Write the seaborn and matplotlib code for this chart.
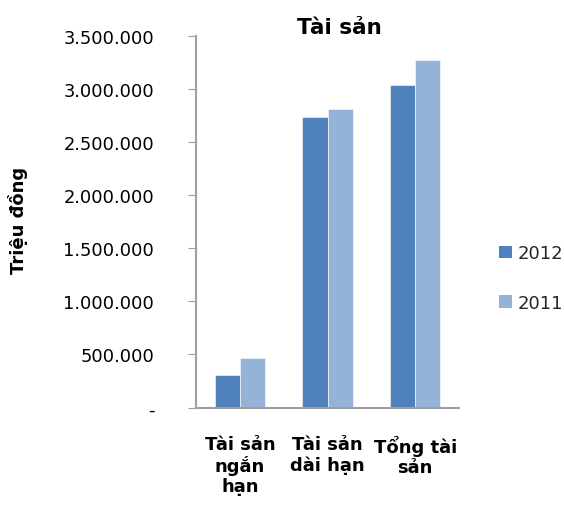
import matplotlib
matplotlib.use("Agg")
import matplotlib.pyplot as plt
import matplotlib.ticker as mticker
from matplotlib.patches import Patch
import seaborn as sns
import pandas as pd

# Asset breakdown (million VND)
categories = ["Tài sản ngắn hạn", "Tài sản dài hạn", "Tổng tài sản"]
tick_labels = ["Tài sản\nngắn\nhạn", "Tài sản\ndài hạn", "Tổng tài\nsản"]
years = ["2012", "2011"]
values_2012 = [305000, 2735000, 3040000]
values_2011 = [464000, 2810000, 3274000]
colors = ["#4F81BD", "#95B3D7"]

df = pd.DataFrame({
    "category": categories * 2,
    "year": [years[0]] * 3 + [years[1]] * 3,
    "value": values_2012 + values_2011,
})

sns.set_theme(style="white")
plt.rcParams["font.family"] = ["DejaVu Sans"]

fig = plt.figure(figsize=(5.64, 5.06), dpi=100)
ax = fig.add_axes([196 / 564, 1 - 408.5 / 506, (459 - 196) / 564, (408.5 - 37) / 506])

sns.barplot(data=df, x="category", y="value", hue="year", hue_order=years,
            order=categories, palette=colors, width=0.577, saturation=1,
            edgecolor="white", linewidth=0.4, ax=ax, legend=False)

ax.set_ylim(0, 3500000)
ax.set_yticks(range(0, 3500001, 500000))


def vn_fmt(v, pos):
    if v == 0:
        return "-"
    return f"{int(v):,}".replace(",", ".")


ax.yaxis.set_major_formatter(mticker.FuncFormatter(vn_fmt))
ax.tick_params(axis="y", which="major", length=6, width=0.8, color="#A0A0A0",
               direction="out", labelsize=12.9, labelcolor="black", pad=24, left=True)
ax.tick_params(axis="x", length=0, labelsize=13, pad=20, labelcolor="black")
ax.set_xticks(range(len(categories)))
ax.set_xticklabels(tick_labels, fontweight="bold", linespacing=1.12)

for side in ("top", "right"):
    ax.spines[side].set_visible(False)
for side in ("left", "bottom"):
    ax.spines[side].set_color("#A0A0A0")
    ax.spines[side].set_linewidth(1.5)

ax.set_xlabel("")
ax.set_ylabel("Triệu đồng", fontsize=13, fontweight="bold", color="black")
ax.yaxis.set_label_coords((28 - 196) / 263, (408.5 - 220) / 371.5)

ax.set_title("Tài sản", fontsize=15.5, fontweight="bold", x=(339 - 196) / 263, pad=2,
             color="black")

handles = [Patch(facecolor=c, edgecolor="none") for c in colors]
fig.legend(handles, years, loc="center left", bbox_to_anchor=(499 / 564, 1 - 279 / 506),
           frameon=False, fontsize=13, handlelength=0.7, handleheight=0.7,
           handletextpad=0.35, labelspacing=1.75, borderpad=0, borderaxespad=0)

fig.savefig("out.png", dpi=100)
